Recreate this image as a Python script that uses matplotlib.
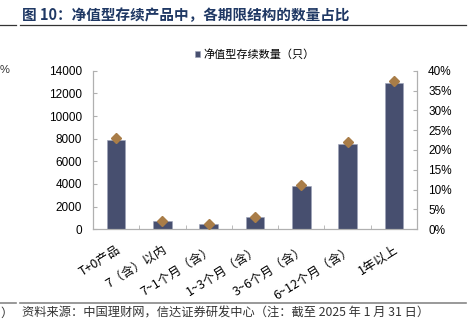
import numpy as np
import matplotlib.pyplot as plt
from matplotlib.lines import Line2D

plt.rcParams['font.family'] = ['Liberation Sans', 'Noto Sans CJK SC', 'DejaVu Sans']
CJK = ['Noto Sans CJK SC', 'DejaVu Sans']

categories = ["T+0产品", "7（含）以内", "7~1个月（含）", "1~3个月（含）",
              "3~6个月（含）", "6~12个月（含）", "1年以上"]
counts = [7880, 730, 440, 1060, 3820, 7560, 12890]
shares = [23.0, 2.2, 1.3, 3.2, 11.2, 22.0, 37.5]  # %

bar_color = '#474f6f'
dot_color = '#a97d48'
spine_c = '#b0b0b0'

fig = plt.figure(figsize=(4.73, 3.33), dpi=100)
ax = fig.add_axes([93/473, 1-229.3/333, 324/473, 158.6/333])
ax2 = ax.twinx()

x = np.arange(len(categories))
ax.bar(x, counts, width=0.4, color=bar_color, edgecolor='#9ea3b8', linewidth=0.4,
       label="净值型存续数量（只）", zorder=2)
ax2.plot(x, shares, linestyle='none', marker='D', markersize=5.5, color=dot_color, zorder=3)

ax.set_xlim(-0.5, len(categories) - 0.5)
ax.set_ylim(0, 14000)
ax.set_yticks(np.arange(0, 14001, 2000))
ax2.set_ylim(0, 40)
ax2.set_yticks(np.arange(0, 41, 5))
ax2.set_yticklabels([f"{v}%" for v in range(0, 41, 5)])
ax2.set_zorder(ax.get_zorder() + 1)
ax2.patch.set_visible(False)

ax.set_xticks(x)
ax.set_xticklabels(categories, rotation=32, ha='right', rotation_mode='anchor',
                   fontsize=9, family=CJK)
ax.set_xticks(np.arange(-0.5, len(categories), 1), minor=True)
ax.tick_params(axis='x', which='major', length=0, pad=10)
ax.tick_params(axis='x', which='minor', length=3, direction='in', color=spine_c)
ax.tick_params(axis='y', length=3, direction='in', color=spine_c, labelsize=8.5, pad=8)
ax2.tick_params(axis='y', length=3, direction='in', color=spine_c, labelsize=8.5, pad=8)

for a in (ax, ax2):
    a.spines['top'].set_visible(False)
    for s in ('left', 'right', 'bottom'):
        a.spines[s].set_color(spine_c)
        a.spines[s].set_linewidth(0.8)

ax.legend(loc='upper center', bbox_to_anchor=(0.5, 1.2), frameon=False,
          handlelength=0.5, handleheight=0.5, handletextpad=0.3,
          prop={'family': CJK, 'size': 8})

# title and source
fig.text(22/473, 1-15/333, "图 10：净值型存续产品中，各期限结构的数量占比", fontsize=10.5,
         fontweight='bold', color='#1f3864', va='center', family=CJK)
fig.add_artist(Line2D([20/473, 466/473], [1-25/333, 1-25/333], color='#333333', lw=0.9))
fig.add_artist(Line2D([0, 16/473], [1-25/333, 1-25/333], color='#333333', lw=0.9))
fig.add_artist(Line2D([20/473, 466/473], [1-303/333, 1-303/333], color='#888888', lw=1.2))
fig.add_artist(Line2D([0, 16/473], [1-303/333, 1-303/333], color='#888888', lw=1.2))
fig.text(22/473, 1-313/333, "资料来源：中国理财网，信达证券研发中心（注：截至 2025 年 1 月 31 日）",
         fontsize=8.8, color='#333333', va='center', style='italic', family=CJK)
fig.text(0, 1-313/333, "）", fontsize=8.8, color='#333333', va='center', family=CJK)
fig.text(0, 1-70/333, "%", fontsize=8, color='#333333', va='center')

fig.savefig('out.png', dpi=100)
